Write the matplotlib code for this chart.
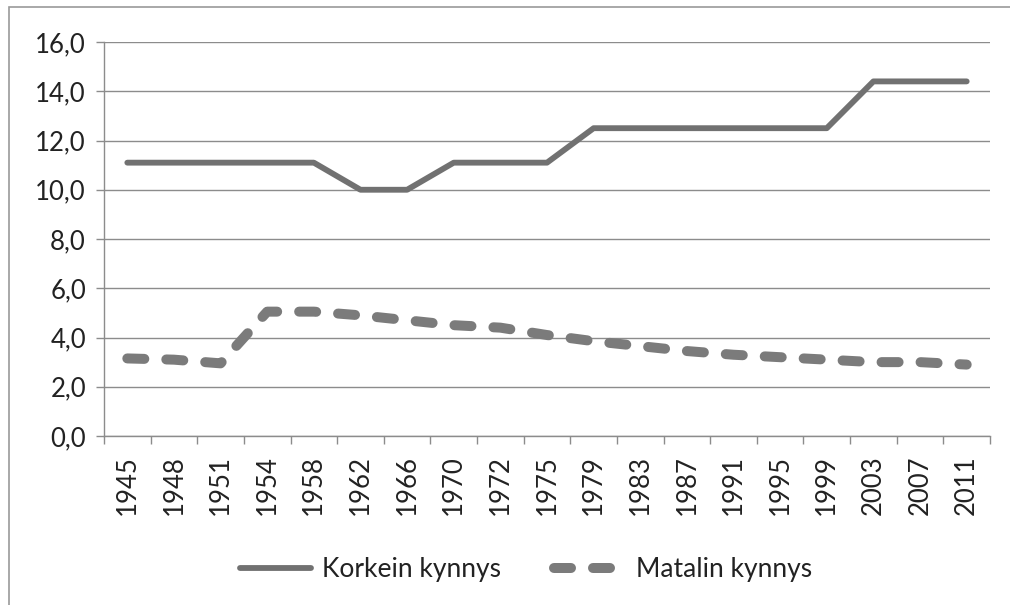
import matplotlib
matplotlib.use("Agg")
import matplotlib.pyplot as plt
from matplotlib.patches import Rectangle
from matplotlib.lines import Line2D

years = ["1945", "1948", "1951", "1954", "1958", "1962", "1966", "1970", "1972", "1975",
         "1979", "1983", "1987", "1991", "1995", "1999", "2003", "2007", "2011"]
korkein = [11.1, 11.1, 11.1, 11.1, 11.1, 10.0, 10.0, 11.1, 11.1, 11.1,
           12.5, 12.5, 12.5, 12.5, 12.5, 12.5, 14.4, 14.4, 14.4]
matalin = [3.15, 3.1, 2.95, 5.05, 5.05, 4.9, 4.7, 4.5, 4.4, 4.1,
           3.85, 3.65, 3.45, 3.3, 3.2, 3.1, 3.0, 3.0, 2.9]
yticks = [0, 2, 4, 6, 8, 10, 12, 14, 16]
labels = ["Korkein kynnys", "Matalin kynnys"]

plt.rcParams['font.family'] = ['Lato', 'Open Sans', 'DejaVu Sans']

W, H = 1010, 605
fig = plt.figure(figsize=(W / 100, H / 100), dpi=100)
fig.patch.set_facecolor("white")

# chart area border (left/top visible)
fig.add_artist(Rectangle((9 / W, -0.05), 1.2, 1 - 7 / H + 0.05, transform=fig.transFigure,
                         fill=False, edgecolor="#9a9a9a", linewidth=1.2))

ax = fig.add_axes([104 / W, (H - 436) / H, (990 - 104) / W, (436 - 42) / H])
x = list(range(len(years)))

grid_c = "#8c8c8c"
ax.set_ylim(0, 16)
ax.set_xlim(-0.5, len(years) - 0.5)
ax.set_yticks(yticks)
ax.set_yticklabels([f"{v:.1f}".replace(".", ",") for v in yticks])
ax.yaxis.grid(True, color=grid_c, linewidth=1.0)
ax.set_axisbelow(True)

ax.set_xticks(x)
ax.set_xticklabels(years, rotation=90)
ax.set_xticks([i - 0.5 for i in range(len(years) + 1)], minor=True)
ax.tick_params(axis="x", which="major", length=0, pad=14, labelsize=18.5, colors="#222222")
ax.tick_params(axis="x", which="minor", length=6, width=1, color=grid_c)
ax.tick_params(axis="y", which="major", length=6, width=1, color=grid_c, pad=7,
               labelsize=18.5, labelcolor="#222222")

for s in ["top", "right"]:
    ax.spines[s].set_visible(False)
for s in ["left", "bottom"]:
    ax.spines[s].set_color(grid_c)
    ax.spines[s].set_linewidth(1.0)

solid_c = "#717171"
dash_c = "#7b7b7b"
ax.plot(x, korkein, color=solid_c, linewidth=4.2, solid_capstyle="round",
        solid_joinstyle="round", clip_on=False)
ax.plot(x, matalin, color=dash_c, linewidth=7.2, linestyle=(0, (1.7, 2.2)),
        dash_capstyle="round", dash_joinstyle="round", clip_on=False)

handles = [Line2D([], [], color=solid_c, linewidth=4.2, solid_capstyle="round"),
           Line2D([], [], color=dash_c, linewidth=7.2, linestyle=(0, (1.7, 2.2)),
                  dash_capstyle="round")]
fig.legend(handles, labels, loc="center", bbox_to_anchor=(526 / W, 1 - 570 / H),
           ncol=2, frameon=False, fontsize=19, handlelength=2.7, handletextpad=0.4,
           columnspacing=2.0, labelcolor="#222222")

fig.savefig("out.png", dpi=100, facecolor="white")
